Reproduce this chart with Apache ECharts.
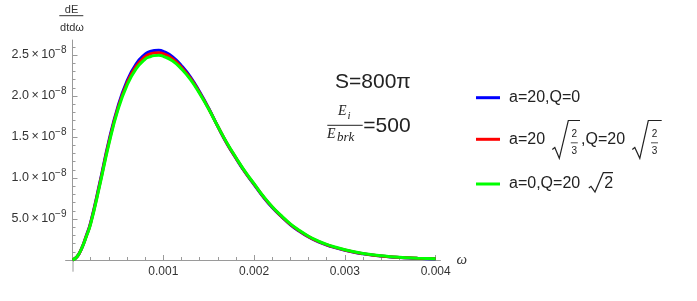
<!DOCTYPE html>
<html>
<head>
<meta charset="utf-8">
<script src="https://cdn.jsdelivr.net/npm/echarts@6/dist/echarts.min.js"></script>
<style>html,body{margin:0;padding:0;background:#fff;}#c{width:697px;height:301px;}</style>
</head>
<body>
<div id="c"></div>
<script>
// omega values
const omega = [0, 0.00005, 0.0001, 0.00015, 0.0002, 0.0003, 0.0004, 0.0005, 0.0006, 0.0007, 0.0008, 0.00085, 0.0009, 0.00095, 0.001,
  0.0011, 0.0012, 0.0013, 0.0014, 0.0015, 0.0016, 0.0017, 0.0018, 0.0019, 0.002,
  0.0021, 0.0022, 0.0023, 0.0024, 0.0025, 0.0026, 0.0027, 0.0028, 0.0029, 0.003,
  0.0031, 0.0032, 0.0033, 0.0034, 0.0035, 0.0036, 0.0037, 0.0038, 0.0039, 0.004];
// dE/dtdω in units of 1e-8
const seriesBlue = [0, 0.04, 0.14, 0.29, 0.46, 0.94, 1.45, 1.87, 2.18, 2.39, 2.51, 2.54, 2.555, 2.558, 2.545,
  2.48, 2.37, 2.23, 2.05, 1.85, 1.63, 1.42, 1.24, 1.07, 0.92,
  0.77, 0.64, 0.53, 0.43, 0.35, 0.28, 0.226, 0.182, 0.148, 0.119,
  0.095, 0.076, 0.06, 0.048, 0.038, 0.031, 0.025, 0.02, 0.016, 0.013];
const seriesRed = [0, 0.04, 0.14, 0.285, 0.45, 0.925, 1.43, 1.85, 2.155, 2.36, 2.48, 2.51, 2.525, 2.528, 2.515,
  2.455, 2.35, 2.215, 2.04, 1.845, 1.63, 1.425, 1.245, 1.075, 0.925,
  0.775, 0.645, 0.535, 0.435, 0.355, 0.285, 0.23, 0.186, 0.151, 0.122,
  0.097, 0.078, 0.062, 0.049, 0.039, 0.032, 0.026, 0.021, 0.017, 0.014];
const seriesGreen = [0, 0.04, 0.14, 0.28, 0.44, 0.91, 1.41, 1.83, 2.13, 2.33, 2.45, 2.477, 2.492, 2.495, 2.484,
  2.43, 2.33, 2.20, 2.03, 1.84, 1.63, 1.43, 1.25, 1.08, 0.93,
  0.78, 0.65, 0.54, 0.44, 0.36, 0.29, 0.235, 0.19, 0.155, 0.125,
  0.10, 0.08, 0.064, 0.051, 0.041, 0.033, 0.027, 0.022, 0.018, 0.015];
// ticks
const xMajorTicks = [0.001, 0.002, 0.003, 0.004];
const xTickLabels = ['0.001', '0.002', '0.003', '0.004'];
const xMinorTicks = [0.0002, 0.0004, 0.0006, 0.0008, 0.0012, 0.0014, 0.0016, 0.0018,
  0.0022, 0.0024, 0.0026, 0.0028, 0.0032, 0.0034, 0.0036, 0.0038];
const yMajorTicks = [0.5, 1.0, 1.5, 2.0, 2.5];
const yTickMantissa = ['5.0', '1.0', '1.5', '2.0', '2.5'];
const yTickExponent = ['\u22129', '\u22128', '\u22128', '\u22128', '\u22128'];
const yMinorTicks = [0.1, 0.2, 0.3, 0.4, 0.6, 0.7, 0.8, 0.9, 1.1, 1.2, 1.3, 1.4, 1.6, 1.7, 1.8, 1.9,
  2.1, 2.2, 2.3, 2.4, 2.6];

const AX = '#9a9a9a';
const TXT = '#333';
const FONT = '"Liberation Sans", Arial, sans-serif';
const SERIF = '"Liberation Serif", "Times New Roman", serif';

const chart = echarts.init(document.getElementById('c'), null, {renderer: 'canvas'});

function pts(arr) { return omega.map((w, i) => [w, arr[i]]); }

const xBase = {
  type: 'value', min: 0, max: 0.00405, position: 'bottom',
  axisLine: {show: true, onZero: false, lineStyle: {color: AX, width: 1}},
  splitLine: {show: false}
};
const yBase = {
  type: 'value', min: 0, max: 2.68, position: 'left',
  axisLine: {show: true, onZero: false, lineStyle: {color: AX, width: 1}},
  splitLine: {show: false}
};

const option = {
  animation: false,
  backgroundColor: '#fff',
  grid: {left: 72.5, right: 697 - 440.2, top: 40.2, bottom: 301 - 260, containLabel: false, outerBoundsMode: 'none'},
  xAxis: [
    Object.assign({}, xBase, {
      name: '\u03c9', nameLocation: 'end', nameGap: 13,
      nameTextStyle: {fontFamily: SERIF, fontStyle: 'italic', fontSize: 15, color: TXT},
      axisTick: {show: true, inside: true, length: 5, customValues: xMajorTicks, lineStyle: {color: AX}},
      axisLabel: {show: true, customValues: xMajorTicks, margin: 6, fontFamily: FONT, fontSize: 12, color: TXT,
        formatter: function (v) { const i = xMajorTicks.findIndex(t => Math.abs(t - v) < 1e-9); return i >= 0 ? xTickLabels[i] : ''; }}
    }),
    Object.assign({}, xBase, {
      axisTick: {show: true, inside: true, length: 3, customValues: xMinorTicks, lineStyle: {color: AX}},
      axisLabel: {show: false}
    })
  ],
  yAxis: [
    Object.assign({}, yBase, {
      axisTick: {show: true, inside: true, length: 5, customValues: yMajorTicks, lineStyle: {color: AX}},
      axisLabel: {show: true, customValues: yMajorTicks, margin: 6,
        formatter: function (v) {
          const i = yMajorTicks.findIndex(t => Math.abs(t - v) < 1e-6);
          if (i < 0) return '';
          return '{m|' + yTickMantissa[i] + '\u2009\u00d7\u200910}{s|' + yTickExponent[i] + '}';
        },
        rich: {
          m: {fontFamily: FONT, fontSize: 12.5, color: TXT, lineHeight: 20, verticalAlign: 'middle'},
          s: {fontFamily: FONT, fontSize: 10, color: TXT, lineHeight: 8, verticalAlign: 'top'}
        }}
    }),
    Object.assign({}, yBase, {
      axisTick: {show: true, inside: true, length: 3, customValues: yMinorTicks, lineStyle: {color: AX}},
      axisLabel: {show: false}
    })
  ],
  legend: [
    {data: ['blue'], top: 97.7 - 10},
    {data: ['red'], top: 139.3 - 10},
    {data: ['green'], top: 184 - 10}
  ].map(l => Object.assign({
    orient: 'vertical', left: 476, padding: 0, itemWidth: 24, itemHeight: 3, icon: 'rect',
    selectedMode: false,
    textStyle: {fontFamily: FONT, fontSize: 16, color: '#222', lineHeight: 20, padding: [0, 0, 0, 4],
      rich: {
        t: {fontFamily: FONT, fontSize: 16, color: '#222', lineHeight: 20},
        g: {fontFamily: FONT, fontSize: 16, lineHeight: 20, width: 36},
        g2: {fontFamily: FONT, fontSize: 16, lineHeight: 20, width: 36}
      }},
    formatter: function (name) {
      if (name === 'blue') return '{t|a=20,Q=0}';
      if (name === 'red') return '{t|a=20}{g| }{t|,Q=20}{g2| }';
      return '{t|a=0,Q=20}';
    }
  }, l)),
  series: [
    {name: 'blue', data: pts(seriesBlue), color: '#0000ff'},
    {name: 'red', data: pts(seriesRed), color: '#ff0000'},
    {name: 'green', data: pts(seriesGreen), color: '#00ff00'}
  ].map(s => Object.assign({
    type: 'line', xAxisIndex: 0, yAxisIndex: 0, smooth: 0.5,
    showSymbol: false, symbol: 'none', lineStyle: {width: 3}, emphasis: {disabled: true}
  }, s)),
  graphic: [
    // y axis title fraction
    {type: 'text', style: {x: 71.5, y: 10, text: 'dE', fontFamily: FONT, fontSize: 11, fill: TXT, align: 'center', verticalAlign: 'middle'}, silent: true},
    {type: 'line', shape: {x1: 59.3, y1: 15.7, x2: 83.3, y2: 15.7}, style: {stroke: TXT, lineWidth: 1}, silent: true},
    {type: 'text', style: {x: 72, y: 28.3, text: 'dtd\u03c9', fontFamily: FONT, fontSize: 11, fill: TXT, align: 'center', verticalAlign: 'middle'}, silent: true},
    // annotations
    {type: 'text', style: {x: 335, y: 82.3, text: 'S=800\u03c0', fontFamily: FONT, fontSize: 21, fill: '#222', align: 'left', verticalAlign: 'middle'}, silent: true},
    {type: 'text', style: {x: 338, y: 118, text: 'E', fontFamily: SERIF, fontStyle: 'italic', fontSize: 14, fill: '#222', align: 'left', verticalAlign: 'bottom'}, silent: true},
    {type: 'text', style: {x: 347.5, y: 121.5, text: 'i', fontFamily: SERIF, fontStyle: 'italic', fontSize: 11, fill: '#222', align: 'left', verticalAlign: 'bottom'}, silent: true},
    {type: 'line', shape: {x1: 327.3, y1: 125.3, x2: 362.7, y2: 125.3}, style: {stroke: '#222', lineWidth: 1}, silent: true},
    {type: 'text', style: {x: 327, y: 141, text: 'E', fontFamily: SERIF, fontStyle: 'italic', fontSize: 14, fill: '#222', align: 'left', verticalAlign: 'bottom'}, silent: true},
    {type: 'text', style: {x: 337, y: 144.5, text: 'brk', fontFamily: SERIF, fontStyle: 'italic', fontSize: 13, fill: '#222', align: 'left', verticalAlign: 'bottom'}, silent: true},
    {type: 'text', style: {x: 363.3, y: 126.5, text: '=500', fontFamily: FONT, fontSize: 21, fill: '#222', align: 'left', verticalAlign: 'middle'}, silent: true},
    // legend row 2 radicals
    {type: 'polyline', shape: {points: [[552.3, 149.5], [554.8, 147.5], [559.3, 158.3], [568.3, 120.5], [580, 120.5]]}, style: {stroke: '#222', lineWidth: 1.2, fill: null}, silent: true},
    {type: 'text', style: {x: 574.3, y: 134, text: '2', fontFamily: FONT, fontSize: 10, fill: '#222', align: 'center', verticalAlign: 'middle'}, silent: true},
    {type: 'line', shape: {x1: 570.8, y1: 142.8, x2: 577.8, y2: 142.8}, style: {stroke: '#222', lineWidth: 0.8}, silent: true},
    {type: 'text', style: {x: 574.3, y: 151.5, text: '3', fontFamily: FONT, fontSize: 10, fill: '#222', align: 'center', verticalAlign: 'middle'}, silent: true},
    {type: 'polyline', shape: {points: [[632.3, 149.5], [634.8, 147.5], [639.8, 158.3], [648.3, 120.5], [661.7, 120.5]]}, style: {stroke: '#222', lineWidth: 1.2, fill: null}, silent: true},
    {type: 'text', style: {x: 654.5, y: 134, text: '2', fontFamily: FONT, fontSize: 10, fill: '#222', align: 'center', verticalAlign: 'middle'}, silent: true},
    {type: 'line', shape: {x1: 651, y1: 142.8, x2: 658, y2: 142.8}, style: {stroke: '#222', lineWidth: 0.8}, silent: true},
    {type: 'text', style: {x: 654.5, y: 151.5, text: '3', fontFamily: FONT, fontSize: 10, fill: '#222', align: 'center', verticalAlign: 'middle'}, silent: true},
    // legend row 3 radical
    {type: 'polyline', shape: {points: [[588.8, 188], [591, 186.3], [595, 192], [603.3, 172.7], [613, 172.7]]}, style: {stroke: '#222', lineWidth: 1.2, fill: null}, silent: true},
    {type: 'text', style: {x: 604.3, y: 184, text: '2', fontFamily: FONT, fontSize: 16, fill: '#222', align: 'left', verticalAlign: 'middle'}, silent: true}
  ]
};
chart.setOption(option);

// extend the axis lines slightly past the origin, as in the reference
const o = chart.convertToPixel({xAxisIndex: 0, yAxisIndex: 0}, [0, 0]);
const g = option.graphic.slice();
g.push({type: 'line', shape: {x1: o[0] - 7.3, y1: o[1] + 0.5, x2: o[0], y2: o[1] + 0.5}, style: {stroke: AX, lineWidth: 1}, silent: true});
g.push({type: 'line', shape: {x1: o[0] + 0.5, y1: o[1], x2: o[0] + 0.5, y2: o[1] + 11.7}, style: {stroke: AX, lineWidth: 1}, silent: true});
chart.setOption({graphic: g});
</script>
</body>
</html>
